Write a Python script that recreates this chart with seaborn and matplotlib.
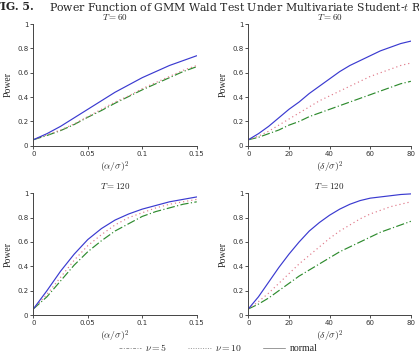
import pandas as pd
import matplotlib.pyplot as plt
import seaborn as sns
from matplotlib.lines import Line2D

# valores
alpha_x = [0, 0.0125, 0.025, 0.0375, 0.05, 0.0625, 0.075, 0.0875, 0.1, 0.1125, 0.125, 0.1375, 0.15]
delta_x = [0, 5, 10, 15, 20, 25, 30, 35, 40, 45, 50, 55, 60, 65, 70, 75, 80]

t60_alpha_normal = [0.05, 0.10, 0.16, 0.23, 0.30, 0.37, 0.44, 0.50, 0.56, 0.61, 0.66, 0.70, 0.74]
t60_alpha_nu10 = [0.05, 0.09, 0.13, 0.18, 0.24, 0.30, 0.36, 0.41, 0.47, 0.52, 0.57, 0.62, 0.66]
t60_alpha_nu5 = [0.05, 0.085, 0.125, 0.175, 0.235, 0.29, 0.35, 0.405, 0.46, 0.51, 0.56, 0.61, 0.65]

t60_delta_normal = [0.05, 0.10, 0.16, 0.23, 0.30, 0.36, 0.43, 0.49, 0.55, 0.61, 0.66, 0.70, 0.74, 0.78, 0.81, 0.84, 0.86]
t60_delta_nu10 = [0.05, 0.08, 0.12, 0.17, 0.22, 0.27, 0.32, 0.37, 0.41, 0.45, 0.49, 0.53, 0.57, 0.60, 0.63, 0.66, 0.68]
t60_delta_nu5 = [0.05, 0.07, 0.10, 0.13, 0.17, 0.20, 0.24, 0.27, 0.30, 0.33, 0.36, 0.39, 0.42, 0.45, 0.48, 0.51, 0.53]

t120_alpha_normal = [0.05, 0.20, 0.36, 0.50, 0.62, 0.71, 0.78, 0.83, 0.87, 0.90, 0.93, 0.95, 0.97]
t120_alpha_nu10 = [0.05, 0.17, 0.31, 0.45, 0.57, 0.66, 0.74, 0.80, 0.84, 0.88, 0.91, 0.93, 0.95]
t120_alpha_nu5 = [0.05, 0.15, 0.28, 0.41, 0.52, 0.61, 0.69, 0.75, 0.81, 0.85, 0.88, 0.91, 0.93]

t120_delta_normal = [0.05, 0.15, 0.27, 0.39, 0.50, 0.60, 0.69, 0.76, 0.82, 0.87, 0.91, 0.94, 0.96, 0.97, 0.98, 0.99, 0.995]
t120_delta_nu10 = [0.05, 0.11, 0.18, 0.26, 0.34, 0.42, 0.49, 0.56, 0.63, 0.69, 0.74, 0.79, 0.83, 0.86, 0.89, 0.91, 0.93]
t120_delta_nu5 = [0.05, 0.09, 0.14, 0.20, 0.26, 0.32, 0.37, 0.42, 0.47, 0.52, 0.56, 0.60, 0.64, 0.68, 0.71, 0.74, 0.77]

series_names = ['ν = 5', 'ν = 10', 'normal']
cores = {'ν = 5': '#2e8b2e', 'ν = 10': '#e07a8a', 'normal': '#3a3ad0'}
tracos = {'ν = 5': (7, 2, 1, 2), 'ν = 10': (1, 2.5), 'normal': ''}

paineis = [
    ('$T = 60$', alpha_x, [t60_alpha_nu5, t60_alpha_nu10, t60_alpha_normal], r'$(\alpha/\sigma)^2$'),
    ('$T = 60$', delta_x, [t60_delta_nu5, t60_delta_nu10, t60_delta_normal], r'$(\delta/\sigma)^2$'),
    ('$T = 120$', alpha_x, [t120_alpha_nu5, t120_alpha_nu10, t120_alpha_normal], r'$(\alpha/\sigma)^2$'),
    ('$T = 120$', delta_x, [t120_delta_nu5, t120_delta_nu10, t120_delta_normal], r'$(\delta/\sigma)^2$'),
]

sns.set_style('ticks')
plt.rcParams['mathtext.fontset'] = 'cm'
plt.rcParams['font.family'] = ['DejaVu Sans']

fig = plt.figure(figsize=(4.19, 3.54), dpi=100)
posicoes = [
    [0.0795, 0.588, 0.390, 0.344],
    [0.5926, 0.588, 0.388, 0.344],
    [0.0795, 0.110, 0.390, 0.344],
    [0.5926, 0.110, 0.388, 0.344],
]

for pos, (titulo, xs, ys, xlab) in zip(posicoes, paineis):
    ax = fig.add_axes(pos)
    linhas = []
    for nome, vals in zip(series_names, ys):
        for x, y in zip(xs, vals):
            linhas.append({'x': x, 'power': y, 'serie': nome})
    df = pd.DataFrame(linhas)
    sns.lineplot(data=df, x='x', y='power', hue='serie', style='serie',
                 palette=cores, dashes=tracos, linewidth=0.85, legend=False, ax=ax)
    ax.set_xlim(xs[0], xs[-1])
    ax.set_ylim(0, 1)
    ax.set_yticks([0, 0.2, 0.4, 0.6, 0.8, 1])
    ax.set_yticklabels(['0', '0.2', '0.4', '0.6', '0.8', '1'])
    if xs[-1] < 1:
        ax.set_xticks([0, 0.05, 0.1, 0.15])
        ax.set_xticklabels(['0', '0.05', '0.1', '0.15'])
    else:
        ax.set_xticks([0, 20, 40, 60, 80])
        ax.set_xticklabels(['0', '20', '40', '60', '80'])
    ax.tick_params(labelsize=5, length=2, width=0.6, pad=1.5, colors='#333333')
    for s in ['left', 'bottom']:
        ax.spines[s].set_linewidth(0.7)
        ax.spines[s].set_color('#444444')
    sns.despine(ax=ax)
    ax.set_title(titulo, fontsize=6.5, pad=3)
    ax.set_xlabel(xlab, fontsize=7, labelpad=2)
    ax.set_ylabel('Power', fontsize=7, family='Liberation Serif', labelpad=3)

fig.text(-0.016, 0.998, 'FIG. 5.', fontsize=7.8, fontweight='bold',
         family='DejaVu Serif', va='top', ha='left')
fig.text(49 / 419, 0.998, 'Power Function of GMM Wald Test Under Multivariate Student-$t$ Returns',
         fontsize=7.8, family='DejaVu Serif', va='top', ha='left')

handles = [
    Line2D([], [], color='#999999', lw=0.7, dashes=(3, 1.5, 1, 1.5)),
    Line2D([], [], color='#999999', lw=0.7, dashes=(1, 1.5)),
    Line2D([], [], color='#999999', lw=0.7),
]
labels = [r'$\nu = 5$', r'$\nu = 10$', 'normal']
fig.legend(handles, labels, loc='center', bbox_to_anchor=(0.52, 0.018), ncol=3,
           frameon=False, handlelength=2.3, columnspacing=2.2, handletextpad=0.4,
           prop={'family': 'Liberation Serif', 'size': 7})

fig.savefig('out.png', dpi=100)
